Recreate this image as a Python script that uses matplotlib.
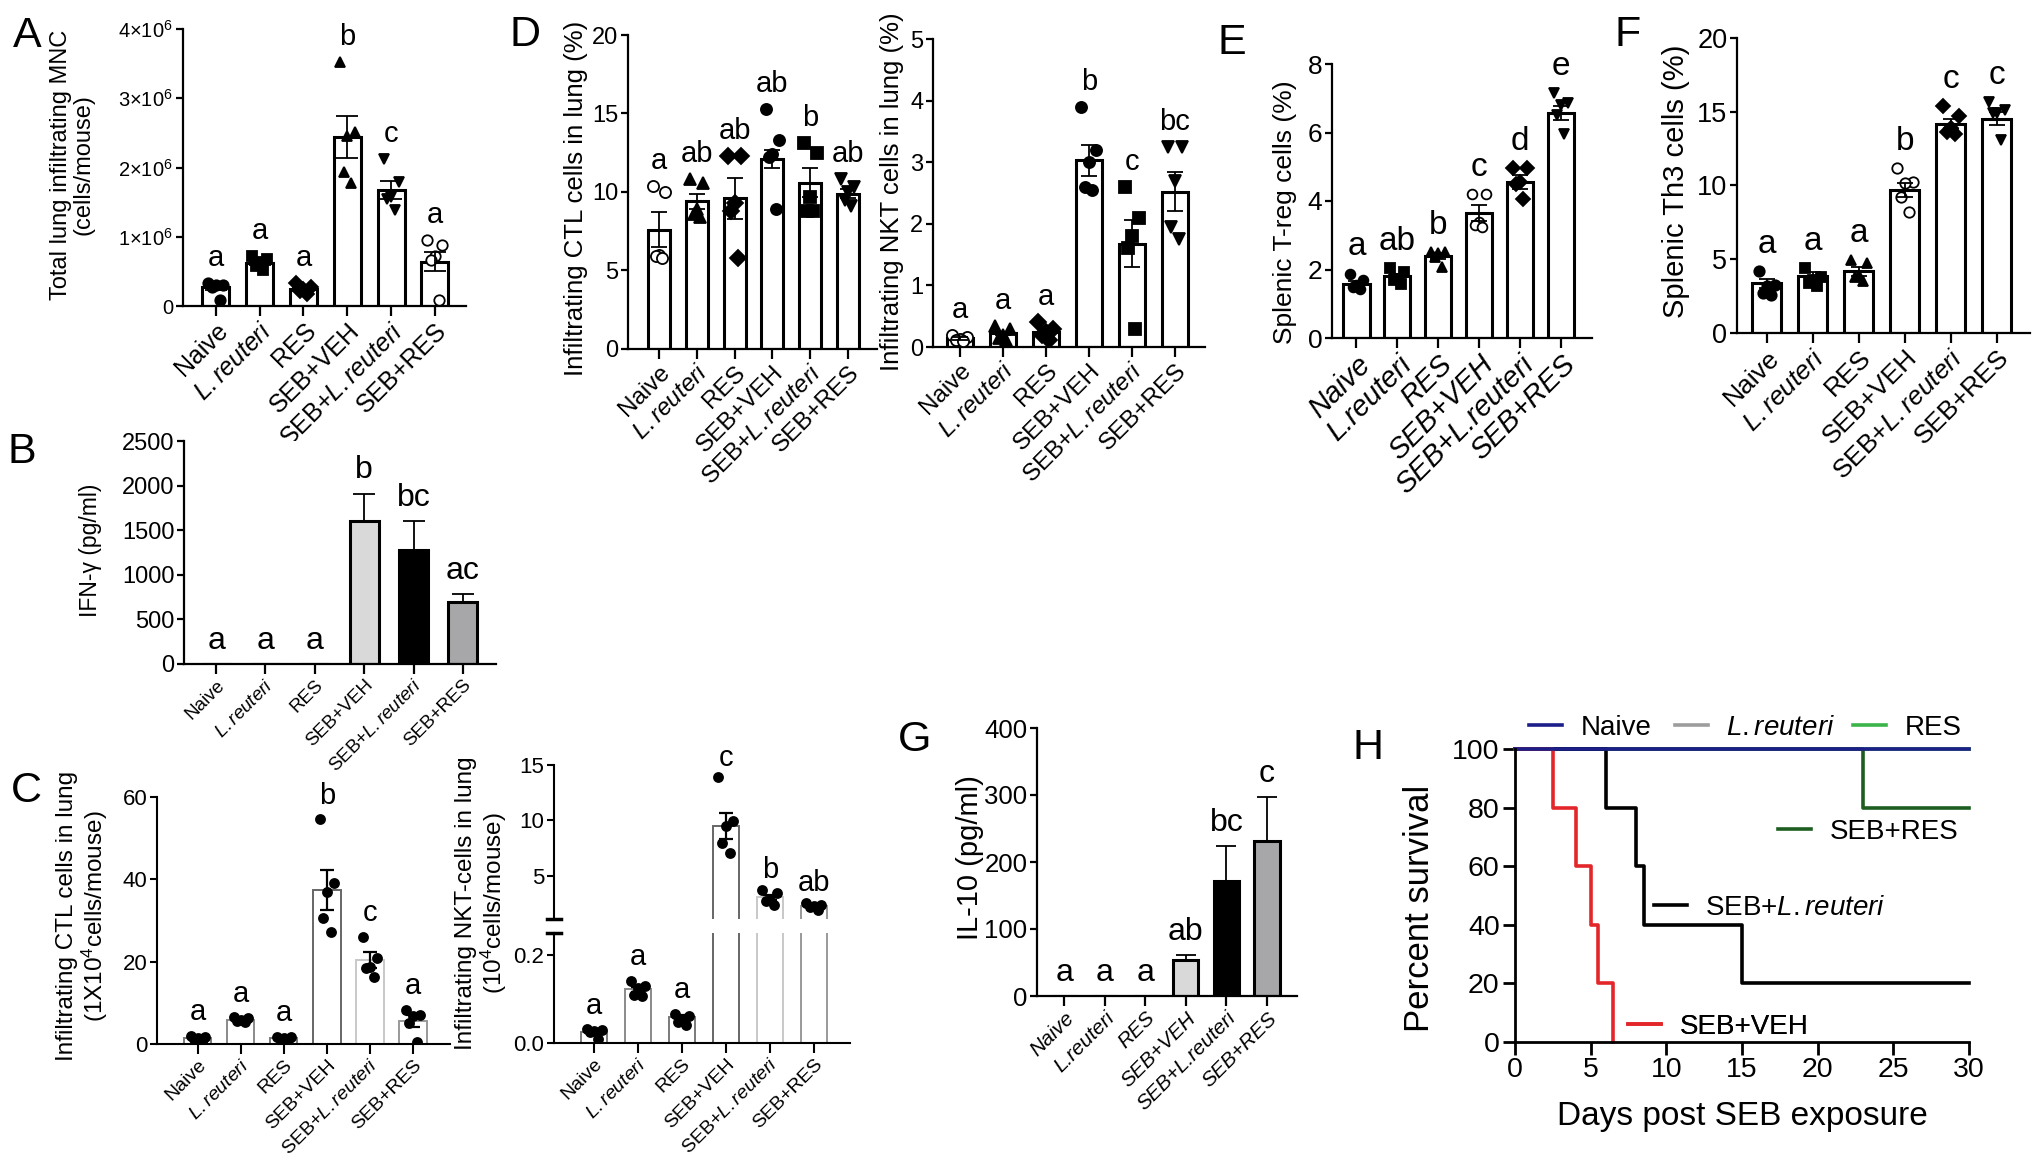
import numpy as np
import matplotlib
matplotlib.use("Agg")
import matplotlib.pyplot as plt
from matplotlib import font_manager

plt.rcParams['font.family'] = ['Liberation Sans', 'DejaVu Sans']
plt.rcParams['mathtext.fontset'] = 'custom'
plt.rcParams['mathtext.rm'] = 'Liberation Sans'
plt.rcParams['mathtext.it'] = 'Liberation Sans:italic'
plt.rcParams['mathtext.bf'] = 'Liberation Sans:bold'

_names = {f.name for f in font_manager.fontManager.ttflist}
NARROW = 'Liberation Sans Narrow' if 'Liberation Sans Narrow' in _names else 'Liberation Sans'

# ---------------- data ----------------
GROUPS = ["Naive", "L.reuteri", "RES", "SEB+VEH", "SEB+L.reuteri", "SEB+RES"]

# A: total lung infiltrating MNC (x10^6 cells/mouse)
A_mean = [0.27, 0.62, 0.25, 2.44, 1.68, 0.64]
A_sem = [0.04, 0.03, 0.03, 0.31, 0.13, 0.14]
A_pts = [[0.33, 0.31, 0.30, 0.28, 0.09],
         [0.72, 0.68, 0.63, 0.58, 0.52],
         [0.33, 0.28, 0.25, 0.22, 0.17],
         [3.52, 2.51, 2.45, 1.94, 1.78],
         [2.12, 1.79, 1.58, 1.55, 1.39],
         [0.95, 0.88, 0.72, 0.67, 0.09]]
A_letters = ["a", "a", "a", "b", "c", "a"]

# D left: CTL cells in lung (%)
DL_mean = [7.6, 9.4, 9.6, 12.1, 10.6, 9.9]
DL_sem = [1.1, 0.5, 1.3, 0.6, 0.9, 0.3]
DL_pts = [[10.4, 10.0, 6.0, 5.9, 5.8],
          [10.8, 10.6, 8.9, 8.6, 8.4],
          [12.3, 12.3, 9.3, 8.8, 5.8],
          [15.3, 13.3, 12.4, 12.2, 8.9],
          [13.1, 12.5, 9.7, 8.8, 8.8],
          [10.8, 10.3, 10.0, 9.5, 9.1]]
DL_letters = ["a", "ab", "ab", "ab", "b", "ab"]

# D right: NKT cells in lung (%)
DR_mean = [0.14, 0.22, 0.25, 3.03, 1.68, 2.52]
DR_sem = [0.02, 0.03, 0.04, 0.25, 0.38, 0.32]
DR_pts = [[0.20, 0.16, 0.13, 0.12, 0.10],
          [0.34, 0.30, 0.20, 0.15, 0.12],
          [0.40, 0.30, 0.25, 0.20, 0.12],
          [3.90, 3.20, 3.00, 2.60, 2.55],
          [2.60, 2.10, 1.80, 1.60, 0.30],
          [3.25, 3.25, 2.70, 1.95, 1.75]]
DR_letters = ["a", "a", "a", "b", "c", "bc"]

# E: splenic T-reg cells (%)
E_mean = [1.59, 1.80, 2.39, 3.64, 4.56, 6.56]
E_sem = [0.08, 0.08, 0.08, 0.23, 0.2, 0.2]
E_pts = [[1.88, 1.69, 1.54, 1.49, 1.44],
         [2.03, 1.93, 1.73, 1.69, 1.59],
         [2.51, 2.51, 2.47, 2.37, 2.08],
         [4.20, 4.20, 3.39, 3.29, 3.25],
         [4.95, 4.95, 4.56, 4.50, 4.07],
         [7.14, 6.85, 6.80, 6.50, 5.97]]
E_letters = ["a", "ab", "b", "c", "d", "e"]

# F: splenic Th3 cells (%)
F_mean = [3.38, 3.88, 4.17, 9.7, 14.16, 14.54]
F_sem = [0.3, 0.25, 0.3, 0.5, 0.35, 0.45]
F_pts = [[4.17, 3.27, 3.16, 2.70, 2.60],
         [4.40, 3.83, 3.60, 3.38, 3.16],
         [4.96, 4.73, 3.95, 3.83, 3.50],
         [11.16, 10.26, 10.15, 9.24, 8.23],
         [15.40, 14.70, 13.90, 13.60, 13.50],
         [15.67, 15.10, 14.90, 14.90, 13.10]]
F_letters = ["a", "a", "a", "b", "c", "c"]

# B: IFN-gamma (pg/ml)
B_mean = [0, 0, 0, 1600, 1280, 690]
B_sem = [0, 0, 0, 310, 320, 95]
B_letters = ["a", "a", "a", "b", "bc", "ac"]

# C left: CTL cells (x10^4 cells/mouse)
CL_mean = [1.5, 5.9, 1.4, 37.4, 20.4, 5.6]
CL_sem = [0.3, 0.2, 0.2, 4.8, 1.9, 1.5]
CL_pts = [[1.9, 1.7, 1.5, 1.3, 0.6],
          [6.5, 6.2, 5.9, 5.6, 5.4],
          [1.8, 1.6, 1.4, 1.2, 1.0],
          [54.6, 39.0, 37.0, 30.5, 27.2],
          [26.0, 20.8, 18.8, 18.4, 16.3],
          [8.3, 7.1, 6.8, 5.0, 0.6]]
CL_letters = ["a", "a", "a", "b", "c", "a"]

# C right: NKT cells (x10^4 cells/mouse), broken axis
CR_mean = [0.026, 0.122, 0.059, 9.5, 3.05, 2.3]
CR_sem = [0.003, 0.006, 0.005, 1.15, 0.25, 0.12]
CR_pts = [[0.031, 0.029, 0.027, 0.025, 0.008],
          [0.141, 0.130, 0.125, 0.110, 0.107],
          [0.066, 0.062, 0.055, 0.047, 0.040],
          [13.9, 9.97, 9.5, 7.97, 7.07],
          [3.74, 3.44, 2.84, 2.70, 2.39],
          [2.54, 2.40, 2.30, 2.20, 1.90]]
CR_letters = ["a", "a", "a", "c", "b", "ab"]

# G: IL-10 (pg/ml)
G_mean = [0, 0, 0, 54, 172, 231]
G_sem = [0, 0, 0, 7, 52, 66]
G_letters = ["a", "a", "a", "ab", "bc", "c"]

# H: survival (%)
H_naive_t, H_naive_s = [0, 30], [100, 100]
H_lreu_t, H_lreu_s = [0, 30], [100, 100]
H_res_t, H_res_s = [0, 30], [100, 100]
H_sebres_t, H_sebres_s = [0, 23, 30], [100, 80, 80]
H_seblreu_t, H_seblreu_s = [0, 6, 8, 8.5, 15, 30], [100, 80, 60, 40, 20, 20]
H_sebveh_t, H_sebveh_s = [0, 2.5, 4, 5, 5.5, 6.5], [100, 80, 60, 40, 20, 0]

# ---------------- figure ----------------
W, H = 2040, 1166
fig = plt.figure(figsize=(W / 100, H / 100), dpi=100)


def add_ax(l, t, r, b):
    return fig.add_axes([l / W, 1 - b / H, (r - l) / W, (b - t) / H])


def ftext(x, y, s, **kw):
    fig.text(x / W, 1 - y / H, s, **kw)


def mixed(g):
    return g.replace("L.reuteri", r"$\it{L.reuteri}$")


LAB_MIXED = [mixed(g) for g in GROUPS]
OFFS = np.array([-0.17, 0.17, 0.0, -0.085, 0.085])


def style(ax, lw=1.6, ylen=5, xlen=7):
    for s in ['top', 'right']:
        ax.spines[s].set_visible(False)
    for s in ['left', 'bottom']:
        ax.spines[s].set_linewidth(lw)
    ax.tick_params(axis='y', direction='out', length=ylen, width=lw, pad=2)
    ax.tick_params(axis='x', direction='out', length=xlen, width=lw, pad=2)


def bar_panel(ax, means, sems, pts, markers, xlim, ylim, yticks, ytl=None,
              width=0.6, tick_fs=13, xlab_fs=13, italic=False, letters=None,
              letter_fs=19, ms=7, capsize=6, faces=None, edges=None,
              bar_lw=2.2, up_only=False, font=None, spine_lw=1.6,
              err_lw=1.3, letter_off=9, show_x=True, letter_mask=None):
    x = np.arange(len(means))
    faces = faces or ['white'] * len(means)
    edges = edges or ['black'] * len(means)
    ax.bar(x, means, width=width, color=faces, edgecolor=edges,
           linewidth=bar_lw, zorder=1)
    if pts is not None:
        for i, p in enumerate(pts):
            m, filled = markers[i]
            ax.plot(i + OFFS[:len(p)], p, ls='none', marker=m, ms=ms,
                    mfc='black' if filled else 'white', mec='black',
                    mew=1.3, zorder=3)
    keep = np.array(sems) > 0
    if up_only:
        yerr = np.array([np.zeros(len(sems)), sems])[:, keep]
    else:
        yerr = np.array(sems)[keep]
    ax.errorbar(x[keep], np.array(means)[keep], yerr=yerr,
                fmt='none', ecolor='black', elinewidth=err_lw, capsize=capsize,
                capthick=err_lw, zorder=4)
    ax.set_xlim(*xlim)
    ax.set_ylim(*ylim)
    ax.set_yticks(yticks)
    fam = font if font else plt.rcParams['font.family']
    if ytl is not None:
        ax.set_yticklabels(ytl)
    for t in ax.get_yticklabels():
        t.set_fontsize(tick_fs)
        t.set_family(fam)
    if show_x:
        ax.set_xticks(x)
        if italic:
            ax.set_xticklabels(GROUPS, rotation=45, ha='right',
                               rotation_mode='anchor', fontsize=xlab_fs,
                               fontstyle='italic')
        else:
            ax.set_xticklabels(LAB_MIXED, rotation=45, ha='right',
                               rotation_mode='anchor', fontsize=xlab_fs)
    style(ax, lw=spine_lw)
    if letters is not None:
        for i, l in enumerate(letters):
            if letter_mask is not None and not letter_mask[i]:
                continue
            top = means[i] + sems[i]
            if pts is not None:
                top = max(top, max(pts[i]))
            ax.annotate(l, (i, top), xytext=(0, letter_off),
                        textcoords='offset points', ha='center', va='bottom',
                        fontsize=letter_fs, family=fam, annotation_clip=False)


# ---- Panel A ----
axA = add_ax(183, 29, 466, 306)
mA = [('o', True), ('s', True), ('D', True), ('^', True), ('v', True), ('o', False)]
bar_panel(axA, A_mean, A_sem, A_pts, mA, xlim=(-0.75, 5.71), ylim=(0, 4.0),
          yticks=[0, 1, 2, 3, 4],
          ytl=["0", "1×10$^{6}$", "2×10$^{6}$", "3×10$^{6}$", "4×10$^{6}$"],
          width=0.62, tick_fs=14.5, xlab_fs=18, letters=A_letters,
          letter_fs=21, ms=7.5, capsize=8, letter_off=8)
ftext(72, 165, "Total lung infiltrating MNC\n(cells/mouse)", rotation=90,
      ha='center', va='center', fontsize=17, linespacing=1.05)

# ---- Panel D left ----
axDL = add_ax(628, 35, 877, 349)
mDL = [('o', False), ('^', True), ('D', True), ('o', True), ('s', True), ('v', True)]
bar_panel(axDL, DL_mean, DL_sem, DL_pts, mDL, xlim=(-0.82, 5.77),
          ylim=(0, 20), yticks=[0, 5, 10, 15, 20], width=0.58, tick_fs=17,
          xlab_fs=17.5, letters=DL_letters, letter_fs=21, ms=8, capsize=6,
          letter_off=8)
ftext(576, 198, "Infiltrating CTL cells in lung (%)", rotation=90,
      ha='center', va='center', fontsize=18.5)

# ---- Panel D right ----
axDR = add_ax(933, 39, 1205, 347)
bar_panel(axDR, DR_mean, DR_sem, DR_pts, mDL, xlim=(-0.62, 5.7),
          ylim=(0, 5), yticks=[0, 1, 2, 3, 4, 5], width=0.6, tick_fs=17,
          xlab_fs=17.5, letters=DR_letters, letter_fs=21, ms=8, capsize=6,
          letter_off=8)
ftext(892, 192, "Infiltrating NKT cells in lung (%)", rotation=90,
      ha='center', va='center', fontsize=18.5)

# ---- Panel E ----
axE = add_ax(1332, 64, 1592, 338)
mE = [('o', True), ('s', True), ('^', True), ('o', False), ('D', True), ('v', True)]
bar_panel(axE, E_mean, E_sem, E_pts, mE, xlim=(-0.6, 5.77), ylim=(0, 8),
          yticks=[0, 2, 4, 6, 8], width=0.64, tick_fs=19, xlab_fs=21,
          italic=True, letters=E_letters, letter_fs=24, ms=7, capsize=6,
          letter_off=8)
ftext(1285, 212, "Splenic T-reg cells (%)", rotation=90, ha='center',
      va='center', fontsize=19)

# ---- Panel F ----
axF = add_ax(1737, 38, 2030, 333)
bar_panel(axF, F_mean, F_sem, F_pts, mE, xlim=(-0.65, 5.72), ylim=(0, 20),
          yticks=[0, 5, 10, 15, 20], width=0.63, tick_fs=19.5, xlab_fs=19,
          letters=F_letters, letter_fs=24, ms=7.5, capsize=6, letter_off=8)
ftext(1676, 181, "Splenic Th3 cells (%)", rotation=90, ha='center',
      va='center', fontsize=21)

# ---- Panel B ----
axB = add_ax(184, 441, 496, 664)
fillcol = ['white', 'white', 'white', '#d9d9d9', 'black', '#a7a7aa']
bar_panel(axB, B_mean, B_sem, None, None, xlim=(-0.65, 5.67),
          ylim=(0, 2500), yticks=[0, 500, 1000, 1500, 2000, 2500],
          width=0.59, tick_fs=17, xlab_fs=13.5, letters=B_letters,
          letter_fs=23, capsize=8, faces=fillcol, bar_lw=2.2, up_only=True,
          letter_off=6)
ftext(90, 550, "IFN-γ (pg/ml)", rotation=90, ha='center', va='center',
      fontsize=16.5)

# ---- Panel C left ----
axCL = add_ax(157, 797, 450, 1044)
cedges = ['#7a7a7a', '#8a8a8a', '#7a7a7a', '#666666', '#c8c8c8', '#999999']
mC = [('o', True)] * 6
bar_panel(axCL, CL_mean, CL_sem, CL_pts, mC, xlim=(-0.95, 5.86),
          ylim=(0, 60), yticks=[0, 20, 40, 60], width=0.63, tick_fs=16,
          xlab_fs=14, letters=CL_letters, letter_fs=21, ms=6.5, capsize=5,
          edges=cedges, bar_lw=1.4, font=NARROW, spine_lw=1.5, err_lw=1.6,
          letter_off=7)
ftext(83, 916, "Infiltrating CTL cells in lung\n(1X10$^{4}$cells/mouse)",
      rotation=90, ha='center', va='center', fontsize=17.5, linespacing=1.05)

# ---- Panel C right (broken axis) ----
axCRu = add_ax(554, 765, 850, 919)
axCRl = add_ax(554, 933, 850, 1043)
low = [True, True, True, False, False, False]
bar_panel(axCRu, CR_mean, CR_sem, CR_pts, mC, xlim=(-0.91, 5.82),
          ylim=(1.1, 15), yticks=[5, 10, 15], width=0.6, tick_fs=16,
          letters=CR_letters, letter_fs=21, ms=6.5, capsize=5, edges=cedges,
          bar_lw=1.4, font=NARROW, spine_lw=1.5, err_lw=1.6, show_x=False,
          letter_off=4, letter_mask=[not v for v in low])
axCRu.set_xticks([])
axCRu.spines['bottom'].set_visible(False)
bar_panel(axCRl, CR_mean, CR_sem, CR_pts, mC, xlim=(-0.91, 5.82),
          ylim=(0, 0.25), yticks=[0, 0.2], ytl=["0.0", "0.2"], width=0.6,
          tick_fs=16, xlab_fs=14, letters=CR_letters, letter_fs=21, ms=6.5,
          capsize=5, edges=cedges, bar_lw=1.4, font=NARROW, spine_lw=1.5,
          err_lw=1.6, letter_off=7, letter_mask=low)
for a, yy in ((axCRu, 0), (axCRl, 1)):
    a.plot([-0.025, 0.025], [yy, yy], transform=a.transAxes, color='black',
           lw=2.5, clip_on=False)
ftext(482, 903, "Infiltrating NKT-cells in lung\n(10$^{4}$cells/mouse)",
      rotation=90, ha='center', va='center', fontsize=17.5, linespacing=1.05)

# ---- Panel G ----
axG = add_ax(1037, 728, 1297, 996)
bar_panel(axG, G_mean, G_sem, None, None, xlim=(-0.67, 5.74), ylim=(0, 400),
          yticks=[0, 100, 200, 300, 400], width=0.62, tick_fs=18.5,
          xlab_fs=15, italic=True, letters=G_letters, letter_fs=23,
          capsize=7, faces=fillcol, bar_lw=2.2, up_only=True, font=NARROW,
          letter_off=6)
ftext(970, 858, "IL-10 (pg/ml)", rotation=90, ha='center', va='center',
      fontsize=21)

# ---- Panel H ----
axH = add_ax(1515, 749, 1969, 1042)
lw_h = 2.6
hl_lreu, = axH.step(H_lreu_t, H_lreu_s, where='post', color='#9d9d9d', lw=lw_h, clip_on=False)
hl_res, = axH.step(H_res_t, H_res_s, where='post', color='#3bb54a', lw=lw_h, clip_on=False)
hl_sebres, = axH.step(H_sebres_t, H_sebres_s, where='post', color='#1d5e20', lw=lw_h, clip_on=False)
hl_seblreu, = axH.step(H_seblreu_t, H_seblreu_s, where='post', color='black', lw=lw_h, clip_on=False)
hl_sebveh, = axH.step(H_sebveh_t, H_sebveh_s, where='post', color='#e3262a', lw=lw_h, clip_on=False)
hl_naive, = axH.step(H_naive_t, H_naive_s, where='post', color='#1c1f8a', lw=lw_h, clip_on=False)
axH.set_xlim(0, 30)
axH.set_ylim(0, 100)
axH.set_xticks(np.arange(0, 31, 5))
axH.set_yticks(np.arange(0, 101, 20))
style(axH, lw=2.0, ylen=9, xlen=9)
axH.tick_params(labelsize=20.5)
ftext(1420, 908, "Percent survival", rotation=90, ha='center', va='center',
      fontsize=25)
ftext(1742, 1117, "Days post SEB exposure", ha='center', va='center',
      fontsize=24)


def leg_entry(handle, label, x_px, y_px, fs=20):
    lg = axH.legend([handle], [label], loc='center left',
                    bbox_to_anchor=(x_px / W, 1 - y_px / H),
                    bbox_transform=fig.transFigure, frameon=False,
                    borderpad=0, borderaxespad=0, handlelength=1.2,
                    handletextpad=0.65, fontsize=fs)
    axH.add_artist(lg)


leg_entry(hl_naive, "Naive", 1529, 728)
leg_entry(hl_lreu, r"$\it{L.reuteri}$", 1675, 728)
leg_entry(hl_res, "RES", 1853, 728)
leg_entry(hl_sebres, "SEB+RES", 1778, 832)
leg_entry(hl_seblreu, r"SEB+$\it{L.reuteri}$", 1654, 908)
leg_entry(hl_sebveh, "SEB+VEH", 1628, 1027)

# ---- panel letters ----
for lab, (x, y) in {"A": (27, 36), "D": (525, 35), "E": (1232, 43),
                    "F": (1628, 35), "B": (22, 452), "C": (26, 791),
                    "G": (915, 740), "H": (1368, 748)}.items():
    ftext(x, y, lab, ha='center', va='center', fontsize=31)

fig.savefig("out.png", dpi=100)
